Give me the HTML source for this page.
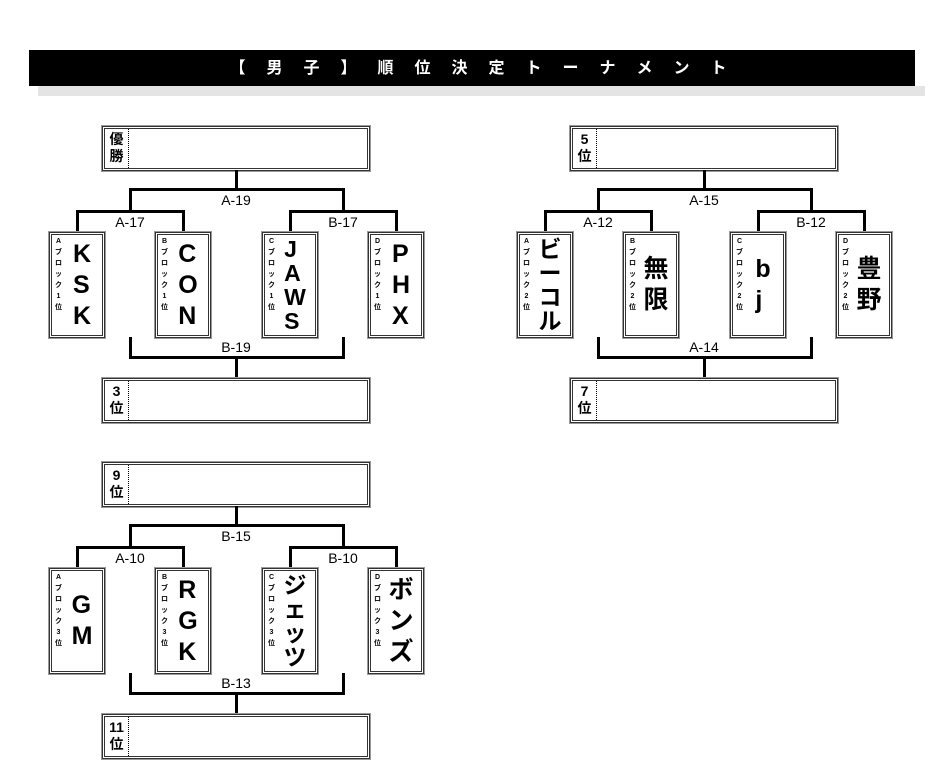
<!DOCTYPE html>
<html><head><meta charset="utf-8"><style>
html,body{margin:0;width:940px;height:779px;background:#fff;position:relative;overflow:hidden;font-family:"Liberation Sans","Noto Sans CJK JP",sans-serif}
.a{position:absolute}
.bar{left:29px;top:50px;width:886px;height:36px;background:#000}
.sh{left:38px;top:86px;width:887px;height:10px;background:#e4e4e4}
.tt{left:219px;top:59px;display:flex;color:#fff;font-weight:bold;font-size:16px;line-height:20px}
.tt span{width:37px;text-align:center;flex:none}
.g{position:absolute;left:0;top:0;width:0;height:0}
.l{position:absolute;background:#000}
.box{position:absolute;width:262px;height:39px;border:3px double #333;outline:1px solid #999;background:#fff}
.box .k{position:absolute;left:0;top:0;width:24px;height:39px;border-right:1px dotted #000;font-weight:bold;font-size:14px;line-height:17px;text-align:center;padding-top:2px;box-sizing:border-box}
.card{position:absolute;top:232px;width:50px;height:100px;border:3px double #333;outline:1px solid #999;background:#fff}
.card .s{position:absolute;left:2px;top:1px;width:9px;font-size:7px;line-height:11px;font-weight:bold;text-align:center}
.card .b{position:absolute;left:10px;right:0;top:0;bottom:0;display:flex;flex-direction:column;justify-content:center;align-items:center;font-weight:bold;font-size:25px;line-height:31px}
.card .b.f{font-size:23px;line-height:24px}
.lb{position:absolute;font-size:14px;line-height:14px;width:60px;text-align:center}
</style></head><body>
<div class="a bar"></div><div class="a sh"></div>
<div class="a tt"><span>【</span><span>男</span><span>子</span><span>】</span><span>順</span><span>位</span><span>決</span><span>定</span><span>ト</span><span>ー</span><span>ナ</span><span>メ</span><span>ン</span><span>ト</span></div>

<div class="g">
<div class="box" style="left:102px;top:126px"><div class="k">優<br>勝</div></div>
<div class="l" style="left:235px;top:170px;width:3px;height:20px"></div>
<div class="l" style="left:129px;top:188px;width:216px;height:3px"></div>
<div class="l" style="left:129px;top:188px;width:3px;height:24px"></div>
<div class="l" style="left:342px;top:188px;width:3px;height:24px"></div>
<div class="l" style="left:76px;top:210px;width:109px;height:3px"></div>
<div class="l" style="left:289px;top:210px;width:109px;height:3px"></div>
<div class="l" style="left:76px;top:210px;width:3px;height:23px"></div>
<div class="l" style="left:182px;top:210px;width:3px;height:23px"></div>
<div class="l" style="left:289px;top:210px;width:3px;height:23px"></div>
<div class="l" style="left:395px;top:210px;width:3px;height:23px"></div>
<div class="lb" style="left:206px;top:193px">A-19</div>
<div class="lb" style="left:100px;top:215px">A-17</div>
<div class="lb" style="left:313px;top:215px">B-17</div>
<div class="card" style="left:49px"><div class="s">A<br>ブ<br>ロ<br>ッ<br>ク<br>1<br>位</div><div class="b">K<br>S<br>K</div></div>
<div class="card" style="left:155px"><div class="s">B<br>ブ<br>ロ<br>ッ<br>ク<br>1<br>位</div><div class="b">C<br>O<br>N</div></div>
<div class="card" style="left:262px"><div class="s">C<br>ブ<br>ロ<br>ッ<br>ク<br>1<br>位</div><div class="b f">J<br>A<br>W<br>S</div></div>
<div class="card" style="left:368px"><div class="s">D<br>ブ<br>ロ<br>ッ<br>ク<br>1<br>位</div><div class="b">P<br>H<br>X</div></div>
<div class="l" style="left:129px;top:337px;width:3px;height:21px"></div>
<div class="l" style="left:342px;top:337px;width:3px;height:21px"></div>
<div class="l" style="left:129px;top:356px;width:216px;height:3px"></div>
<div class="l" style="left:235px;top:356px;width:3px;height:23px"></div>
<div class="lb" style="left:206px;top:340px">B-19</div>
<div class="box" style="left:102px;top:378px"><div class="k">3<br>位</div></div>
</div>

<div class="g" style="left:468px">
<div class="box" style="left:102px;top:126px"><div class="k">5<br>位</div></div>
<div class="l" style="left:235px;top:170px;width:3px;height:20px"></div>
<div class="l" style="left:129px;top:188px;width:216px;height:3px"></div>
<div class="l" style="left:129px;top:188px;width:3px;height:24px"></div>
<div class="l" style="left:342px;top:188px;width:3px;height:24px"></div>
<div class="l" style="left:76px;top:210px;width:109px;height:3px"></div>
<div class="l" style="left:289px;top:210px;width:109px;height:3px"></div>
<div class="l" style="left:76px;top:210px;width:3px;height:23px"></div>
<div class="l" style="left:182px;top:210px;width:3px;height:23px"></div>
<div class="l" style="left:289px;top:210px;width:3px;height:23px"></div>
<div class="l" style="left:395px;top:210px;width:3px;height:23px"></div>
<div class="lb" style="left:206px;top:193px">A-15</div>
<div class="lb" style="left:100px;top:215px">A-12</div>
<div class="lb" style="left:313px;top:215px">B-12</div>
<div class="card" style="left:49px"><div class="s">A<br>ブ<br>ロ<br>ッ<br>ク<br>2<br>位</div><div class="b f">ビ<br>ー<br>コ<br>ル</div></div>
<div class="card" style="left:155px"><div class="s">B<br>ブ<br>ロ<br>ッ<br>ク<br>2<br>位</div><div class="b">無<br>限</div></div>
<div class="card" style="left:262px"><div class="s">C<br>ブ<br>ロ<br>ッ<br>ク<br>2<br>位</div><div class="b">b<br>j</div></div>
<div class="card" style="left:368px"><div class="s">D<br>ブ<br>ロ<br>ッ<br>ク<br>2<br>位</div><div class="b">豊<br>野</div></div>
<div class="l" style="left:129px;top:337px;width:3px;height:21px"></div>
<div class="l" style="left:342px;top:337px;width:3px;height:21px"></div>
<div class="l" style="left:129px;top:356px;width:216px;height:3px"></div>
<div class="l" style="left:235px;top:356px;width:3px;height:23px"></div>
<div class="lb" style="left:206px;top:340px">A-14</div>
<div class="box" style="left:102px;top:378px"><div class="k">7<br>位</div></div>
</div>

<div class="g" style="top:336px">
<div class="box" style="left:102px;top:126px"><div class="k">9<br>位</div></div>
<div class="l" style="left:235px;top:170px;width:3px;height:20px"></div>
<div class="l" style="left:129px;top:188px;width:216px;height:3px"></div>
<div class="l" style="left:129px;top:188px;width:3px;height:24px"></div>
<div class="l" style="left:342px;top:188px;width:3px;height:24px"></div>
<div class="l" style="left:76px;top:210px;width:109px;height:3px"></div>
<div class="l" style="left:289px;top:210px;width:109px;height:3px"></div>
<div class="l" style="left:76px;top:210px;width:3px;height:23px"></div>
<div class="l" style="left:182px;top:210px;width:3px;height:23px"></div>
<div class="l" style="left:289px;top:210px;width:3px;height:23px"></div>
<div class="l" style="left:395px;top:210px;width:3px;height:23px"></div>
<div class="lb" style="left:206px;top:193px">B-15</div>
<div class="lb" style="left:100px;top:215px">A-10</div>
<div class="lb" style="left:313px;top:215px">B-10</div>
<div class="card" style="left:49px"><div class="s">A<br>ブ<br>ロ<br>ッ<br>ク<br>3<br>位</div><div class="b">G<br>M</div></div>
<div class="card" style="left:155px"><div class="s">B<br>ブ<br>ロ<br>ッ<br>ク<br>3<br>位</div><div class="b">R<br>G<br>K</div></div>
<div class="card" style="left:262px"><div class="s">C<br>ブ<br>ロ<br>ッ<br>ク<br>3<br>位</div><div class="b f">ジ<br>ェ<br>ッ<br>ツ</div></div>
<div class="card" style="left:368px"><div class="s">D<br>ブ<br>ロ<br>ッ<br>ク<br>3<br>位</div><div class="b">ボ<br>ン<br>ズ</div></div>
<div class="l" style="left:129px;top:337px;width:3px;height:21px"></div>
<div class="l" style="left:342px;top:337px;width:3px;height:21px"></div>
<div class="l" style="left:129px;top:356px;width:216px;height:3px"></div>
<div class="l" style="left:235px;top:356px;width:3px;height:23px"></div>
<div class="lb" style="left:206px;top:340px">B-13</div>
<div class="box" style="left:102px;top:378px"><div class="k">11<br>位</div></div>
</div>
</body></html>
